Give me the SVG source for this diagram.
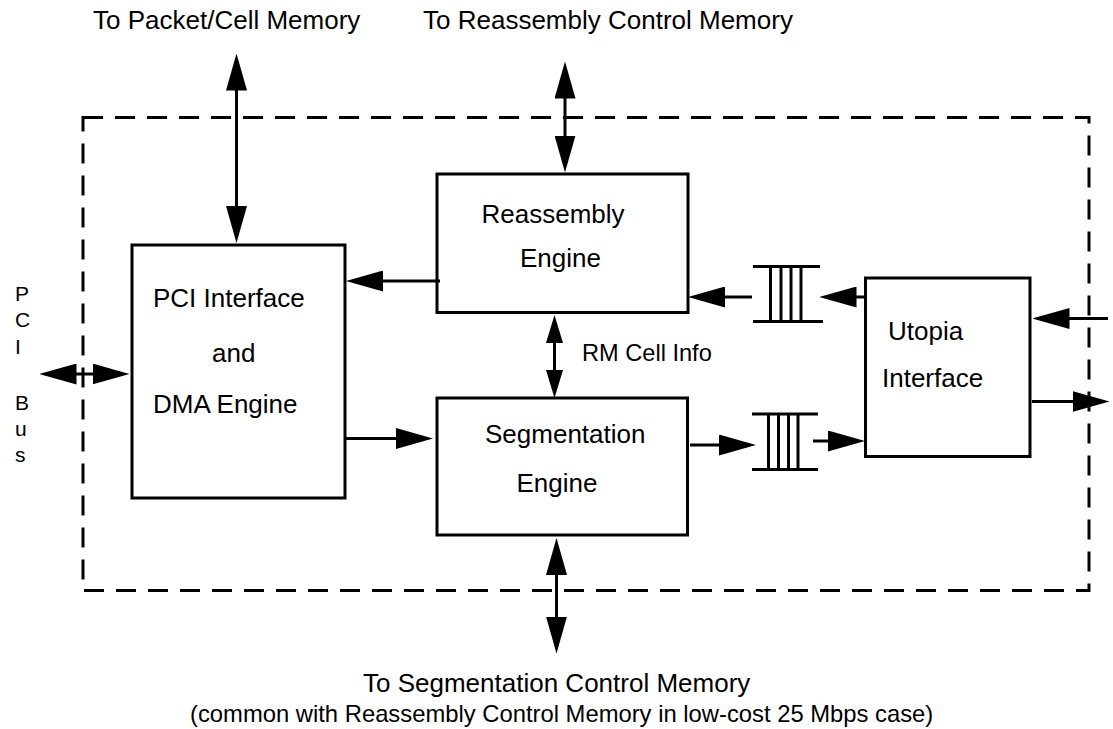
<svg xmlns="http://www.w3.org/2000/svg" width="1113" height="729" viewBox="0 0 1113 729">
<style>
.t{font-family:"Liberation Sans",Arial,Helvetica,sans-serif;font-size:26px;fill:#000}
.s{font-size:23.6px}
.b{font-family:"Liberation Sans",Arial,Helvetica,sans-serif;font-size:21px;fill:#000}
.box{fill:#fff;stroke:#000;stroke-width:3}
.fifo line{stroke:#000;stroke-width:3}
.c line{stroke:#000;stroke-width:3;fill:none}
.a1{marker-end:url(#ah)}
.a2{marker-start:url(#ah);marker-end:url(#ah)}
.a3{marker-start:url(#ahs);marker-end:url(#ahs)}
</style>
<defs>
<marker id="ah" markerUnits="userSpaceOnUse" markerWidth="37" markerHeight="21" refX="27" refY="10.5" orient="auto-start-reverse" viewBox="0 0 37 21">
<path d="M0,0 L37,10.5 L0,21 Z" fill="#000"/>
</marker>
<marker id="ahs" markerUnits="userSpaceOnUse" markerWidth="28" markerHeight="17" refX="20" refY="8.5" orient="auto-start-reverse" viewBox="0 0 28 17">
<path d="M0,0 L28,8.5 L0,17 Z" fill="#000"/>
</marker>
</defs>
<rect width="1113" height="729" fill="#fff"/>
<g id="boundary">
<rect x="83" y="117.5" width="1006" height="473" fill="none" stroke="#000" stroke-width="3" stroke-dasharray="20 12"/>
</g>
<g id="labels">
<text class="t" x="93" y="29">To Packet/Cell Memory</text>
<text class="t" x="423" y="29">To Reassembly Control Memory</text>
<text class="t" x="363" y="692">To Segmentation Control Memory</text>
<text class="t" x="190" y="722" style="font-size:23.8px">(common with Reassembly Control Memory in low-cost 25 Mbps case)</text>
<text class="b" x="15" y="301">P</text>
<text class="b" x="15" y="327">C</text>
<text class="b" x="15" y="354">I</text>
<text class="b" x="15" y="410">B</text>
<text class="b" x="15" y="436">u</text>
<text class="b" x="15" y="462">s</text>
<text class="t s" x="582" y="361">RM Cell Info</text>
</g>
<g id="pci">
<rect class="box" x="132" y="245" width="213" height="253"/>
<text class="t" x="153" y="307">PCI Interface</text>
<text class="t" x="212" y="361.5">and</text>
<text class="t" x="153" y="413">DMA Engine</text>
</g>
<g id="reassembly">
<rect class="box" x="437" y="174" width="251" height="138.5"/>
<text class="t" x="481.5" y="223">Reassembly</text>
<text class="t" x="520" y="267">Engine</text>
</g>
<g id="segmentation">
<rect class="box" x="437" y="398" width="250.5" height="137"/>
<text class="t" x="485" y="443">Segmentation</text>
<text class="t" x="516.5" y="492">Engine</text>
</g>
<g id="utopia">
<rect class="box" x="865.5" y="278" width="164.5" height="178.5"/>
<text class="t" x="888" y="340">Utopia</text>
<text class="t" x="882" y="387">Interface</text>
</g>
<g id="fifo-rx" class="fifo">
<line x1="753" y1="266.5" x2="820" y2="266.5"/>
<line x1="753" y1="321.5" x2="823" y2="321.5"/>
<line x1="770.5" y1="266.5" x2="770.5" y2="321.5"/>
<line x1="781" y1="266.5" x2="781" y2="321.5"/>
<line x1="791" y1="266.5" x2="791" y2="321.5"/>
<line x1="801" y1="266.5" x2="801" y2="321.5"/>
</g>
<g id="fifo-tx" class="fifo">
<line x1="752" y1="414" x2="818" y2="414"/>
<line x1="752" y1="469.5" x2="818" y2="469.5"/>
<line x1="768.5" y1="414" x2="768.5" y2="469.5"/>
<line x1="778.5" y1="414" x2="778.5" y2="469.5"/>
<line x1="788.5" y1="414" x2="788.5" y2="469.5"/>
<line x1="798" y1="414" x2="798" y2="469.5"/>
</g>
<g id="connectors" class="c">
<line class="a2" x1="236.5" y1="63.5" x2="236.5" y2="233"/>
<line class="a2" x1="565" y1="71.5" x2="565" y2="162.5"/>
<line class="a1" x1="440" y1="281" x2="356" y2="281"/>
<line class="a1" x1="345" y1="438.5" x2="423" y2="438.5"/>
<line class="a3" x1="554.5" y1="323" x2="554.5" y2="390"/>
<line class="a2" x1="556.5" y1="548" x2="556.5" y2="643.5"/>
<line class="a2" x1="49.5" y1="374" x2="119.5" y2="374"/>
<line class="a1" x1="752" y1="297" x2="698" y2="297"/>
<line class="a1" x1="865" y1="297" x2="829.5" y2="297"/>
<line class="a1" x1="690" y1="445" x2="746" y2="445"/>
<line class="a1" x1="813" y1="441" x2="855" y2="441"/>
<line class="a1" x1="1108" y1="318.5" x2="1042.5" y2="318.5"/>
<line class="a1" x1="1032" y1="401.5" x2="1099.5" y2="401.5"/>
</g>
</svg>
